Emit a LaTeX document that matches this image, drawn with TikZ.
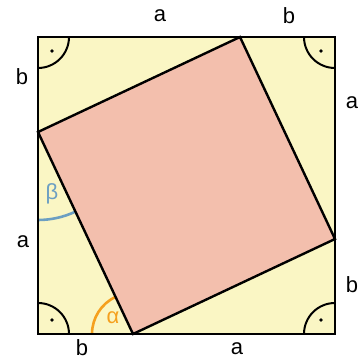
\documentclass[tikz,border=0pt]{standalone}
\usepackage{fontspec}
\setmainfont{Liberation Sans}
\definecolor{yel}{HTML}{FAF6C4}
\definecolor{pink}{HTML}{F3BFAD}
\definecolor{orng}{HTML}{F5A01E}
\definecolor{blu}{HTML}{6C9FC2}
\begin{document}
\begin{tikzpicture}[x=1pt,y=1pt,
  edge/.style={line width=2.4pt,line join=miter},
  rarc/.style={line width=2pt},
  lbl/.style={font=\fontsize{22}{22}\selectfont,inner sep=0pt}]
\useasboundingbox (0,0) rectangle (360,360);
\coordinate (BL) at (38,26);
\coordinate (BR) at (335,26);
\coordinate (TR) at (335,323);
\coordinate (TL) at (38,323);
\coordinate (T) at (240,323);
\coordinate (R) at (335,121);
\coordinate (B) at (133,26);
\coordinate (L) at (38,228);
\fill[yel] (BL) rectangle (TR);
\fill[pink] (T) -- (R) -- (B) -- (L) -- cycle;
% right-angle marks
\draw[rarc] ([xshift=31pt]TL) arc (0:-90:31);
\fill ([xshift=14pt,yshift=-14pt]TL) circle (1.8);
\draw[rarc] ([yshift=-31pt]TR) arc (270:180:31);
\fill ([xshift=-14pt,yshift=-14pt]TR) circle (1.8);
\draw[rarc] ([xshift=-31pt]BR) arc (180:90:31);
\fill ([xshift=-14pt,yshift=14pt]BR) circle (1.8);
\draw[rarc] ([yshift=31pt]BL) arc (90:0:31);
\fill ([xshift=14pt,yshift=14pt]BL) circle (1.8);
% angles
\draw[orng,line width=2.6pt] ([shift={(115.2:41)}]B) arc (115.2:180:41);
\draw[blu,line width=2.6pt] ([shift={(270:88)}]L) arc (270:295.2:88);
\node[lbl,text=orng] (alpha) at (113,42) {α};
\node[lbl,text=blu] (beta) at (52,166) {β};
% squares
\draw[edge] (T) -- (R) -- (B) -- (L) -- cycle;
\draw[edge] (BL) rectangle (TR);
% labels
\node[lbl] (ta) at (160,344) {a};
\node[lbl] (tb) at (289,344) {b};
\node[lbl] (lb) at (22,283) {b};
\node[lbl] (ra) at (352,257) {a};
\node[lbl] (la) at (23,118) {a};
\node[lbl] (rb) at (352,75) {b};
\node[lbl] (bb) at (82,12) {b};
\node[lbl] (ba) at (237,11) {a};
\end{tikzpicture}
\end{document}
